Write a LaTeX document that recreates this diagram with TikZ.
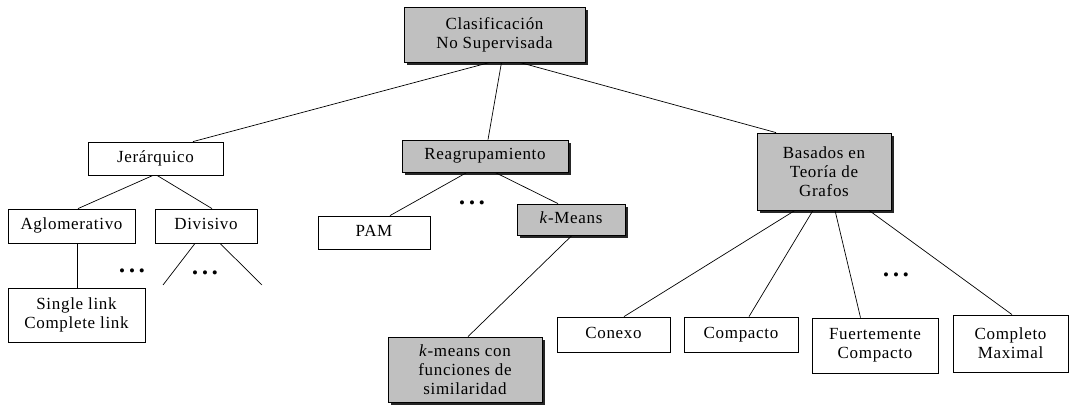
\documentclass[tikz,border=0pt]{standalone}
\usepackage{fontspec}
\setmainfont{Liberation Serif}[LetterSpace=4]
\usetikzlibrary{shadows}
\definecolor{boxgray}{RGB}{192,192,192}
\begin{document}
\begin{tikzpicture}[x=1pt,y=-1pt,
  every node/.style={font=\fontsize{17}{19}\selectfont},
  plainbox/.style={draw=black, line width=0.8pt, fill=white, align=center, inner sep=0pt},
  shadedbox/.style={plainbox, fill=boxgray, drop shadow={shadow xshift=3pt, shadow yshift=-3pt, fill=black!85, opacity=1}},
  link/.style={line width=0.7pt},
  dotsnode/.style={inner sep=0pt}
]
\useasboundingbox (0,0) rectangle (1069,414);

% nodes
\node[shadedbox, minimum width=181pt, minimum height=55pt] (root) at (494.5,34.5) {Clasificación\\No Supervisada};
\node[plainbox, minimum width=135pt, minimum height=33pt] (jer) at (155.5,158.5) {\strut Jerárquico};
\node[plainbox, minimum width=127pt, minimum height=34pt] (aglo) at (71.5,226) {\strut Aglomerativo};
\node[plainbox, minimum width=102pt, minimum height=34pt] (div) at (206,226) {\strut Divisivo};
\node[plainbox, minimum width=137pt, minimum height=54pt] (single) at (76.5,315) {Single link\\Complete link};
\node[shadedbox, minimum width=166pt, minimum height=32pt] (reag) at (485,156) {\strut Reagrupamiento};
\node[plainbox, minimum width=112pt, minimum height=33pt] (pam) at (374,232.5) {\strut PAM};
\node[shadedbox, minimum width=108pt, minimum height=31pt] (km) at (571,219.5) {\strut\textit{k}-Means};
\node[shadedbox, minimum width=154pt, minimum height=65pt] (kmc) at (465,369.5) {\textit{k}-means con\\funciones de\\similaridad};
\node[shadedbox, minimum width=134pt, minimum height=77pt] (bas) at (824,171.5) {Basados en\\Teoría de\\Grafos};
\node[plainbox, minimum width=113pt, minimum height=35pt] (conexo) at (613.5,334.5) {\strut Conexo};
\node[plainbox, minimum width=114pt, minimum height=35pt] (compacto) at (741,334.5) {\strut Compacto};
\node[plainbox, minimum width=126pt, minimum height=55pt] (fuerte) at (875,345.5) {Fuertemente\\Compacto};
\node[plainbox, minimum width=115pt, minimum height=57pt] (completo) at (1010.5,343.5) {Completo\\Maximal};

% dots
\node[dotsnode] (d1) at (132,273) {\textbullet\hspace{4pt}\textbullet\hspace{4pt}\textbullet};
\node[dotsnode] (d2) at (205,275) {\textbullet\hspace{4pt}\textbullet\hspace{4pt}\textbullet};
\node[dotsnode] (d3) at (472,205) {\textbullet\hspace{4pt}\textbullet\hspace{4pt}\textbullet};
\node[dotsnode] (d4) at (896,277) {\textbullet\hspace{4pt}\textbullet\hspace{4pt}\textbullet};

% free ends
\coordinate (dl) at (163,285);
\coordinate (dr) at (262,285);

% connectors
\draw[link] ([xshift=-4.5pt]root.south) -- ([xshift=37.5pt]jer.north);
\draw[link] ([xshift=7pt]root.south) -- ([xshift=3pt]reag.north);
\draw[link] ([xshift=25pt]root.south) -- ([xshift=-48pt]bas.north);

\draw[link] ([xshift=-2.5pt]jer.south) -- ([xshift=6.5pt]aglo.north);
\draw[link] ([xshift=1.5pt]jer.south) -- ([xshift=6pt]div.north);
\draw[link] ([xshift=5.5pt]aglo.south) -- ([xshift=0.5pt]single.north);
\draw[link] ([xshift=-11pt]div.south) -- (dl);
\draw[link] ([xshift=14pt]div.south) -- (dr);

\draw[link] ([xshift=-18pt]reag.south) -- ([xshift=16pt]pam.north);
\draw[link] ([xshift=10pt]reag.south) -- ([xshift=-13pt]km.north);
\draw[link] ([xshift=1pt]km.south) -- ([xshift=3pt]kmc.north);

\draw[link] ([xshift=-29pt]bas.south) -- ([xshift=10.5pt]conexo.north);
\draw[link] ([xshift=-11pt]bas.south) -- ([xshift=8pt]compacto.north);
\draw[link] ([xshift=11pt]bas.south) -- ([xshift=-14.5pt]fuerte.north);
\draw[link] ([xshift=45pt]bas.south) -- ([xshift=1.5pt]completo.north);
\end{tikzpicture}
\end{document}
